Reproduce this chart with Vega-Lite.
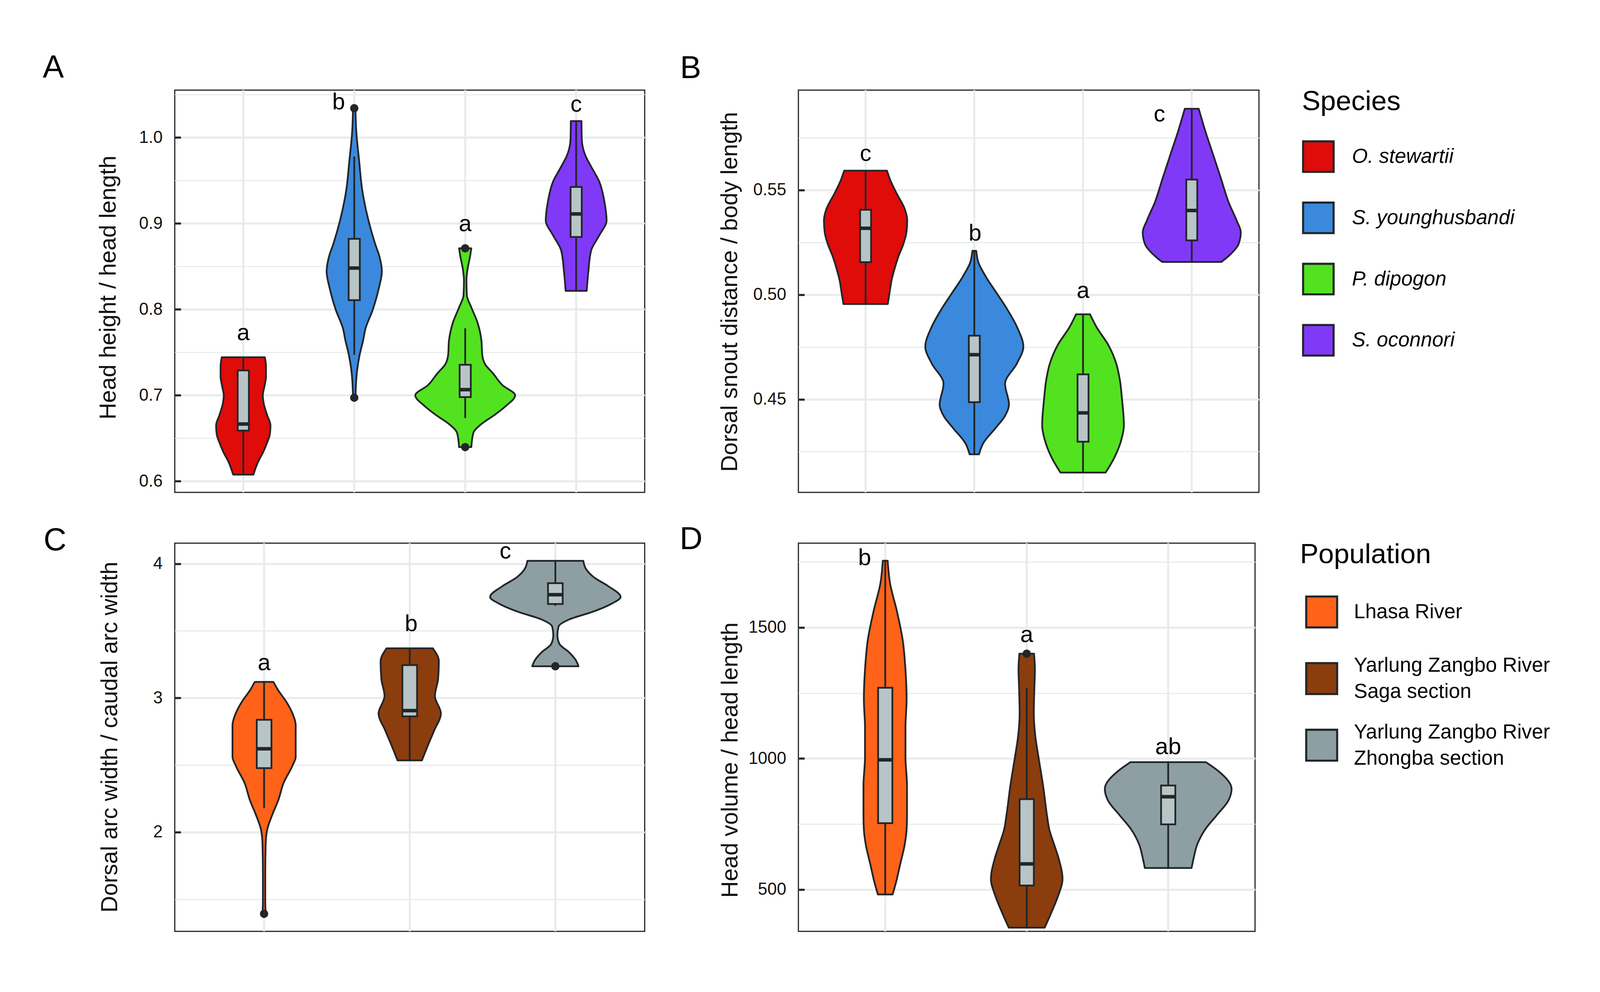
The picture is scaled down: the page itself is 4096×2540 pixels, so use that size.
{
"$schema": "https://vega.github.io/schema/vega-lite/v6.json",
"background": "white",
"autosize": {"type": "pad", "resize": false},
"padding": {"left": 107.4, "top": 130.8, "right": 60, "bottom": 60},
"datasets": {
"vA": [
{"species":"O. stewartii","v":0.7443,"lo":0.806,"hi":1.194},{"species":"O. stewartii","v":0.735,"lo":0.796,"hi":1.204},{"species":"O. stewartii","v":0.722,"lo":0.795,"hi":1.205},{"species":"O. stewartii","v":0.710,"lo":0.810,"hi":1.190},{"species":"O. stewartii","v":0.700,"lo":0.824,"hi":1.176},{"species":"O. stewartii","v":0.690,"lo":0.815,"hi":1.185},{"species":"O. stewartii","v":0.677,"lo":0.785,"hi":1.215},{"species":"O. stewartii","v":0.665,"lo":0.755,"hi":1.245},{"species":"O. stewartii","v":0.655,"lo":0.760,"hi":1.240},{"species":"O. stewartii","v":0.645,"lo":0.785,"hi":1.215},{"species":"O. stewartii","v":0.635,"lo":0.817,"hi":1.183},{"species":"O. stewartii","v":0.621,"lo":0.872,"hi":1.128},{"species":"O. stewartii","v":0.6077,"lo":0.909,"hi":1.091},
{"species":"S. younghusbandi","v":1.0341,"lo":1.989,"hi":2.011},{"species":"S. younghusbandi","v":1.008,"lo":1.982,"hi":2.018},{"species":"S. younghusbandi","v":0.973,"lo":1.956,"hi":2.044},{"species":"S. younghusbandi","v":0.938,"lo":1.927,"hi":2.073},{"species":"S. younghusbandi","v":0.9035,"lo":1.872,"hi":2.128},{"species":"S. younghusbandi","v":0.8756,"lo":1.810,"hi":2.190},{"species":"S. younghusbandi","v":0.8617,"lo":1.773,"hi":2.227},{"species":"S. younghusbandi","v":0.8443,"lo":1.751,"hi":2.249},{"species":"S. younghusbandi","v":0.8233,"lo":1.781,"hi":2.219},{"species":"S. younghusbandi","v":0.799,"lo":1.835,"hi":2.165},{"species":"S. younghusbandi","v":0.778,"lo":1.898,"hi":2.102},{"species":"S. younghusbandi","v":0.764,"lo":1.920,"hi":2.080},{"species":"S. younghusbandi","v":0.7467,"lo":1.952,"hi":2.048},{"species":"S. younghusbandi","v":0.7293,"lo":1.974,"hi":2.026},{"species":"S. younghusbandi","v":0.7118,"lo":1.985,"hi":2.015},{"species":"S. younghusbandi","v":0.6972,"lo":1.989,"hi":2.011},
{"species":"P. dipogon","v":0.8711,"lo":2.945,"hi":3.055},{"species":"P. dipogon","v":0.8617,"lo":2.956,"hi":3.044},{"species":"P. dipogon","v":0.8477,"lo":2.978,"hi":3.022},{"species":"P. dipogon","v":0.8338,"lo":2.989,"hi":3.011},{"species":"P. dipogon","v":0.8164,"lo":2.985,"hi":3.015},{"species":"P. dipogon","v":0.8024,"lo":2.945,"hi":3.055},{"species":"P. dipogon","v":0.785,"lo":2.890,"hi":3.110},{"species":"P. dipogon","v":0.764,"lo":2.854,"hi":3.146},{"species":"P. dipogon","v":0.7467,"lo":2.846,"hi":3.154},{"species":"P. dipogon","v":0.736,"lo":2.820,"hi":3.180},{"species":"P. dipogon","v":0.7258,"lo":2.751,"hi":3.249},{"species":"P. dipogon","v":0.7118,"lo":2.664,"hi":3.336},{"species":"P. dipogon","v":0.700,"lo":2.550,"hi":3.450},{"species":"P. dipogon","v":0.6875,"lo":2.634,"hi":3.366},{"species":"P. dipogon","v":0.677,"lo":2.737,"hi":3.263},{"species":"P. dipogon","v":0.6666,"lo":2.854,"hi":3.146},{"species":"P. dipogon","v":0.6561,"lo":2.927,"hi":3.073},{"species":"P. dipogon","v":0.6397,"lo":2.945,"hi":3.055},
{"species":"S. oconnori","v":1.0192,"lo":3.952,"hi":4.048},{"species":"S. oconnori","v":0.9976,"lo":3.949,"hi":4.051},{"species":"S. oconnori","v":0.9801,"lo":3.920,"hi":4.080},{"species":"S. oconnori","v":0.9662,"lo":3.865,"hi":4.135},{"species":"S. oconnori","v":0.9488,"lo":3.792,"hi":4.208},{"species":"S. oconnori","v":0.9244,"lo":3.744,"hi":4.256},{"species":"S. oconnori","v":0.9035,"lo":3.726,"hi":4.274},{"species":"S. oconnori","v":0.8861,"lo":3.792,"hi":4.208},{"species":"S. oconnori","v":0.8686,"lo":3.865,"hi":4.135},{"species":"S. oconnori","v":0.8443,"lo":3.890,"hi":4.110},{"species":"S. oconnori","v":0.8216,"lo":3.905,"hi":4.095}
],
"vB": [
{"species":"O. stewartii","v":0.5592,"lo":0.803,"hi":1.197},{"species":"O. stewartii","v":0.554,"lo":0.767,"hi":1.233},{"species":"O. stewartii","v":0.5483,"lo":0.714,"hi":1.286},{"species":"O. stewartii","v":0.5412,"lo":0.642,"hi":1.358},{"species":"O. stewartii","v":0.5355,"lo":0.617,"hi":1.383},{"species":"O. stewartii","v":0.5298,"lo":0.624,"hi":1.376},{"species":"O. stewartii","v":0.5241,"lo":0.653,"hi":1.347},{"species":"O. stewartii","v":0.5185,"lo":0.696,"hi":1.304},{"species":"O. stewartii","v":0.5128,"lo":0.731,"hi":1.269},{"species":"O. stewartii","v":0.5071,"lo":0.760,"hi":1.240},{"species":"O. stewartii","v":0.5014,"lo":0.778,"hi":1.222},{"species":"O. stewartii","v":0.4955,"lo":0.796,"hi":1.204},
{"species":"S. younghusbandi","v":0.5209,"lo":1.982,"hi":2.018},{"species":"S. younghusbandi","v":0.5156,"lo":1.964,"hi":2.036},{"species":"S. younghusbandi","v":0.5085,"lo":1.893,"hi":2.107},{"species":"S. younghusbandi","v":0.500,"lo":1.785,"hi":2.215},{"species":"S. younghusbandi","v":0.4929,"lo":1.696,"hi":2.304},{"species":"S. younghusbandi","v":0.4844,"lo":1.606,"hi":2.394},{"species":"S. younghusbandi","v":0.4751,"lo":1.549,"hi":2.451},{"species":"S. younghusbandi","v":0.4673,"lo":1.606,"hi":2.394},{"species":"S. younghusbandi","v":0.4574,"lo":1.717,"hi":2.283},{"species":"S. younghusbandi","v":0.4474,"lo":1.681,"hi":2.319},{"species":"S. younghusbandi","v":0.4418,"lo":1.721,"hi":2.279},{"species":"S. younghusbandi","v":0.4361,"lo":1.807,"hi":2.193},{"species":"S. younghusbandi","v":0.429,"lo":1.918,"hi":2.082},{"species":"S. younghusbandi","v":0.4237,"lo":1.957,"hi":2.043},
{"species":"P. dipogon","v":0.4906,"lo":2.936,"hi":3.064},{"species":"P. dipogon","v":0.4844,"lo":2.875,"hi":3.125},{"species":"P. dipogon","v":0.4759,"lo":2.767,"hi":3.233},{"species":"P. dipogon","v":0.4673,"lo":2.696,"hi":3.304},{"species":"P. dipogon","v":0.4588,"lo":2.660,"hi":3.340},{"species":"P. dipogon","v":0.4503,"lo":2.642,"hi":3.358},{"species":"P. dipogon","v":0.4375,"lo":2.624,"hi":3.376},{"species":"P. dipogon","v":0.4304,"lo":2.649,"hi":3.351},{"species":"P. dipogon","v":0.4219,"lo":2.714,"hi":3.286},{"species":"P. dipogon","v":0.415,"lo":2.792,"hi":3.208},
{"species":"S. oconnori","v":0.5888,"lo":3.936,"hi":4.064},{"species":"S. oconnori","v":0.5781,"lo":3.875,"hi":4.125},{"species":"S. oconnori","v":0.5668,"lo":3.803,"hi":4.197},{"species":"S. oconnori","v":0.5554,"lo":3.731,"hi":4.269},{"species":"S. oconnori","v":0.544,"lo":3.660,"hi":4.340},{"species":"S. oconnori","v":0.5355,"lo":3.588,"hi":4.412},{"species":"S. oconnori","v":0.5298,"lo":3.549,"hi":4.451},{"species":"S. oconnori","v":0.5241,"lo":3.570,"hi":4.430},{"species":"S. oconnori","v":0.5185,"lo":3.660,"hi":4.340},{"species":"S. oconnori","v":0.5156,"lo":3.728,"hi":4.272}
],
"vC": [
{"population":"Lhasa River","v":3.1197,"lo":0.936,"hi":1.064},{"population":"Lhasa River","v":3.057,"lo":0.903,"hi":1.097},{"population":"Lhasa River","v":2.971,"lo":0.847,"hi":1.153},{"population":"Lhasa River","v":2.885,"lo":0.805,"hi":1.195},{"population":"Lhasa River","v":2.798,"lo":0.783,"hi":1.217},{"population":"Lhasa River","v":2.669,"lo":0.783,"hi":1.217},{"population":"Lhasa River","v":2.561,"lo":0.783,"hi":1.217},{"population":"Lhasa River","v":2.496,"lo":0.805,"hi":1.195},{"population":"Lhasa River","v":2.367,"lo":0.866,"hi":1.134},{"population":"Lhasa River","v":2.237,"lo":0.903,"hi":1.097},{"population":"Lhasa River","v":2.129,"lo":0.944,"hi":1.056},{"population":"Lhasa River","v":2.022,"lo":0.978,"hi":1.022},{"population":"Lhasa River","v":1.914,"lo":0.989,"hi":1.011},{"population":"Lhasa River","v":1.698,"lo":0.992,"hi":1.008},{"population":"Lhasa River","v":1.482,"lo":0.992,"hi":1.008},{"population":"Lhasa River","v":1.392,"lo":0.989,"hi":1.011},
{"population":"Yarlung Zangbo River Saga section","v":3.370,"lo":1.841,"hi":2.159},{"population":"Yarlung Zangbo River Saga section","v":3.273,"lo":1.800,"hi":2.200},{"population":"Yarlung Zangbo River Saga section","v":3.143,"lo":1.805,"hi":2.195},{"population":"Yarlung Zangbo River Saga section","v":3.014,"lo":1.827,"hi":2.173},{"population":"Yarlung Zangbo River Saga section","v":2.885,"lo":1.786,"hi":2.214},{"population":"Yarlung Zangbo River Saga section","v":2.755,"lo":1.833,"hi":2.167},{"population":"Yarlung Zangbo River Saga section","v":2.647,"lo":1.875,"hi":2.125},{"population":"Yarlung Zangbo River Saga section","v":2.535,"lo":1.916,"hi":2.084},
{"population":"Yarlung Zangbo River Zhongba section","v":4.0216,"lo":2.808,"hi":3.192},{"population":"Yarlung Zangbo River Zhongba section","v":3.9633,"lo":2.791,"hi":3.209},{"population":"Yarlung Zangbo River Zhongba section","v":3.8986,"lo":2.735,"hi":3.265},{"population":"Yarlung Zangbo River Zhongba section","v":3.8339,"lo":2.638,"hi":3.362},{"population":"Yarlung Zangbo River Zhongba section","v":3.7519,"lo":2.552,"hi":3.448},{"population":"Yarlung Zangbo River Zhongba section","v":3.7044,"lo":2.610,"hi":3.390},{"population":"Yarlung Zangbo River Zhongba section","v":3.6397,"lo":2.749,"hi":3.251},{"population":"Yarlung Zangbo River Zhongba section","v":3.5858,"lo":2.903,"hi":3.097},{"population":"Yarlung Zangbo River Zhongba section","v":3.5318,"lo":2.978,"hi":3.022},{"population":"Yarlung Zangbo River Zhongba section","v":3.4671,"lo":2.986,"hi":3.014},{"population":"Yarlung Zangbo River Zhongba section","v":3.4024,"lo":2.972,"hi":3.028},{"population":"Yarlung Zangbo River Zhongba section","v":3.3376,"lo":2.903,"hi":3.097},{"population":"Yarlung Zangbo River Zhongba section","v":3.2837,"lo":2.861,"hi":3.139},{"population":"Yarlung Zangbo River Zhongba section","v":3.2362,"lo":2.841,"hi":3.159}
],
"vD": [
{"population":"Lhasa River","v":1755,"lo":0.983,"hi":1.017},{"population":"Lhasa River","v":1672,"lo":0.967,"hi":1.033},{"population":"Lhasa River","v":1561,"lo":0.917,"hi":1.083},{"population":"Lhasa River","v":1450,"lo":0.876,"hi":1.124},{"population":"Lhasa River","v":1339,"lo":0.857,"hi":1.143},{"population":"Lhasa River","v":1228,"lo":0.849,"hi":1.151},{"population":"Lhasa River","v":1117,"lo":0.857,"hi":1.143},{"population":"Lhasa River","v":1006,"lo":0.857,"hi":1.143},{"population":"Lhasa River","v":895,"lo":0.846,"hi":1.154},{"population":"Lhasa River","v":784,"lo":0.846,"hi":1.154},{"population":"Lhasa River","v":728,"lo":0.849,"hi":1.151},{"population":"Lhasa River","v":673,"lo":0.862,"hi":1.138},{"population":"Lhasa River","v":595,"lo":0.895,"hi":1.105},{"population":"Lhasa River","v":529,"lo":0.923,"hi":1.077},{"population":"Lhasa River","v":481,"lo":0.948,"hi":1.052},
{"population":"Yarlung Zangbo River Saga section","v":1400,"lo":1.948,"hi":2.052},{"population":"Yarlung Zangbo River Saga section","v":1339,"lo":1.942,"hi":2.058},{"population":"Yarlung Zangbo River Saga section","v":1284,"lo":1.945,"hi":2.055},{"population":"Yarlung Zangbo River Saga section","v":1173,"lo":1.950,"hi":2.050},{"population":"Yarlung Zangbo River Saga section","v":1084,"lo":1.939,"hi":2.061},{"population":"Yarlung Zangbo River Saga section","v":1006,"lo":1.917,"hi":2.083},{"population":"Yarlung Zangbo River Saga section","v":895,"lo":1.884,"hi":2.116},{"population":"Yarlung Zangbo River Saga section","v":784,"lo":1.857,"hi":2.143},{"population":"Yarlung Zangbo River Saga section","v":728,"lo":1.840,"hi":2.160},{"population":"Yarlung Zangbo River Saga section","v":673,"lo":1.807,"hi":2.193},{"population":"Yarlung Zangbo River Saga section","v":618,"lo":1.774,"hi":2.226},{"population":"Yarlung Zangbo River Saga section","v":540,"lo":1.747,"hi":2.253},{"population":"Yarlung Zangbo River Saga section","v":473,"lo":1.780,"hi":2.220},{"population":"Yarlung Zangbo River Saga section","v":418,"lo":1.821,"hi":2.179},{"population":"Yarlung Zangbo River Saga section","v":354.6,"lo":1.873,"hi":2.127},
{"population":"Yarlung Zangbo River Zhongba section","v":986,"lo":2.733,"hi":3.267},{"population":"Yarlung Zangbo River Zhongba section","v":950.6,"lo":2.642,"hi":3.358},{"population":"Yarlung Zangbo River Zhongba section","v":884,"lo":2.552,"hi":3.448},{"population":"Yarlung Zangbo River Zhongba section","v":840,"lo":2.574,"hi":3.426},{"population":"Yarlung Zangbo River Zhongba section","v":784,"lo":2.656,"hi":3.344},{"population":"Yarlung Zangbo River Zhongba section","v":729,"lo":2.739,"hi":3.261},{"population":"Yarlung Zangbo River Zhongba section","v":673,"lo":2.794,"hi":3.206},{"population":"Yarlung Zangbo River Zhongba section","v":618,"lo":2.821,"hi":3.179},{"population":"Yarlung Zangbo River Zhongba section","v":582,"lo":2.835,"hi":3.165}
],
"bA": [
{"pos":1,"lw":0.6077,"q1":0.6589,"med":0.6666,"q3":0.729,"uw":0.7443},
{"pos":2,"lw":0.747,"q1":0.8108,"med":0.8481,"q3":0.8822,"uw":0.978},
{"pos":3,"lw":0.6735,"q1":0.6979,"med":0.7066,"q3":0.7355,"uw":0.778},
{"pos":4,"lw":0.8216,"q1":0.8843,"med":0.9111,"q3":0.9425,"uw":1.0192}
],
"bB": [
{"pos":1,"lw":0.4955,"q1":0.5155,"med":0.5317,"q3":0.5405,"uw":0.5592},
{"pos":2,"lw":0.4237,"q1":0.4486,"med":0.4713,"q3":0.4804,"uw":0.5209},
{"pos":3,"lw":0.415,"q1":0.4297,"med":0.4435,"q3":0.4619,"uw":0.4906},
{"pos":4,"lw":0.5156,"q1":0.5259,"med":0.5402,"q3":0.555,"uw":0.5888}
],
"bC": [
{"pos":1,"lw":2.179,"q1":2.477,"med":2.621,"q3":2.837,"uw":3.12},
{"pos":2,"lw":2.535,"q1":2.863,"med":2.906,"q3":3.245,"uw":3.37},
{"pos":3,"lw":3.687,"q1":3.70,"med":3.769,"q3":3.855,"uw":4.0216}
],
"bD": [
{"pos":1,"lw":481,"q1":753,"med":995,"q3":1270,"uw":1755},
{"pos":2,"lw":354.6,"q1":515.5,"med":597.7,"q3":845,"uw":1270},
{"pos":3,"lw":582,"q1":748.6,"med":854,"q3":897,"uw":986}
],
"oA": [{"pos":2,"val":1.0341},{"pos":2,"val":0.6972},{"pos":3,"val":0.8711},{"pos":3,"val":0.6397}],
"oC": [{"pos":1,"val":1.392},{"pos":3,"val":3.236}],
"oD": [{"pos":2,"val":1400}],
"tA": [{"lx":1,"ly":0.764,"t":"a"},{"lx":1.859,"ly":1.033,"t":"b"},{"lx":3,"ly":0.891,"t":"a"},{"lx":4,"ly":1.03,"t":"c"}],
"tB": [{"lx":1,"ly":0.5639,"t":"c"},{"lx":2.007,"ly":0.5259,"t":"b"},{"lx":3,"ly":0.4983,"t":"a"},{"lx":3.703,"ly":0.5827,"t":"c"}],
"tC": [{"lx":1,"ly":3.208,"t":"a"},{"lx":2.01,"ly":3.499,"t":"b"},{"lx":2.657,"ly":4.039,"t":"c"}],
"tD": [{"lx":0.854,"ly":1738.6,"t":"b"},{"lx":2,"ly":1444.5,"t":"a"},{"lx":3,"ly":1017,"t":"ab"}]
},
"columns": 2,
"concat": [
{"width": 1203, "height": 1030,
 "title": {"text": "A", "anchor": "start", "frame": "group", "align": "left", "baseline": "alphabetic", "dx": -338, "offset": -52.7, "fontSize": 81, "fontWeight": "normal", "font": "Liberation Sans", "color": "#000000"},
 "layer": [
  {"data": {"name": "bA"}, "mark": {"type": "rule", "color": "#E6EBEB", "strokeWidth": 5},
   "encoding": {"x": {"field": "pos", "type": "quantitative", "scale": {"domain": [0.4, 4.6], "nice": false, "zero": false}, "axis": null}}},
  {"data": {"name": "vA"}, "mark": {"type": "area", "orient": "horizontal", "interpolate": "monotone", "stroke": "#222629", "strokeWidth": 4.5, "strokeJoin": "round", "fillOpacity": 1, "opacity": 1},
   "encoding": {
    "y": {"field": "v", "type": "quantitative", "scale": {"domain": [0.587, 1.0552], "nice": false, "zero": false}, "axis": {"orient": "right", "values": [0.65, 0.75, 0.85, 0.95, 1.05], "grid": true, "gridWidth": 2.7, "labels": false, "ticks": false, "domain": false, "title": null}},
    "x": {"field": "lo", "type": "quantitative", "stack": null, "axis": null},
    "x2": {"field": "hi"},
    "color": {"field": "species", "type": "nominal", "scale": {"domain": ["O. stewartii", "S. younghusbandi", "P. dipogon", "S. oconnori"], "range": ["#DF0C0A", "#3B89DC", "#53E21F", "#8139F8"]},
     "legend": {"title": "Species", "orient": "none", "legendX": 2885.6, "legendY": -5, "direction": "vertical", "symbolType": "square", "symbolSize": 6100, "symbolStrokeColor": "#222629", "symbolStrokeWidth": 5.3, "symbolOpacity": 1, "titleFontSize": 71, "titleFontWeight": "normal", "titleColor": "#000000", "titleFont": "Liberation Sans", "titlePadding": 62.25, "titleLimit": 2000, "labelFontSize": 52, "labelFontStyle": "italic", "labelFont": "Liberation Sans", "labelColor": "#000000", "labelOffset": 44, "labelLimit": 2000, "rowPadding": 46.75, "padding": 0, "labelExpr": "['', datum.label]"}}
   }},
  {"data": {"name": "bA"}, "mark": {"type": "rule", "color": "#222629", "strokeWidth": 4.5},
   "encoding": {"x": {"field": "pos", "type": "quantitative", "axis": null}, "y": {"field": "lw", "type": "quantitative", "axis": null}, "y2": {"field": "uw"}}},
  {"data": {"name": "bA"}, "mark": {"type": "bar", "orient": "vertical", "size": 28.6, "fill": "#B8C5C6", "stroke": "#222629", "strokeWidth": 4.5, "opacity": 1},
   "encoding": {"x": {"field": "pos", "type": "quantitative", "axis": null}, "y": {"field": "q1", "type": "quantitative", "axis": {"orient": "left", "values": [0.6, 0.7, 0.8, 0.9, 1.0], "format": ".1f", "grid": true, "gridWidth": 5, "ticks": true, "tickSize": -15.5, "tickWidth": 5.3, "tickColor": "#232629", "labelPadding": 47, "labelOffset": 33.5, "labelFontSize": 43.5, "domain": false, "title": "Head height / head length", "titleFontSize": 59, "titleX": -151.6, "titleY": 505, "titleBaseline": "alphabetic", "titleAngle": 270, "titleAlign": "center"}}, "y2": {"field": "q3"}}},
  {"data": {"name": "bA"}, "mark": {"type": "tick", "orient": "horizontal", "size": 28.6, "thickness": 9, "color": "#222629", "opacity": 1},
   "encoding": {"x": {"field": "pos", "type": "quantitative", "axis": null}, "y": {"field": "med", "type": "quantitative", "axis": null}}},
  {"data": {"name": "oA"}, "mark": {"type": "circle", "size": 450, "color": "#222629", "opacity": 1},
   "encoding": {"x": {"field": "pos", "type": "quantitative", "axis": null}, "y": {"field": "val", "type": "quantitative", "axis": null}}},
  {"data": {"name": "tA"}, "mark": {"type": "text", "fontSize": 59, "font": "Liberation Sans", "baseline": "alphabetic", "align": "center", "color": "#000000"},
   "encoding": {"x": {"field": "lx", "type": "quantitative", "axis": null}, "y": {"field": "ly", "type": "quantitative", "axis": null}, "text": {"field": "t"}}}
 ],
 "resolve": {"axis": {"y": "independent"}}
},
{"width": 1179, "height": 1030,
 "title": {"text": "B", "anchor": "start", "frame": "group", "align": "left", "baseline": "alphabetic", "dx": -303, "offset": -52.7, "fontSize": 81, "fontWeight": "normal", "font": "Liberation Sans", "color": "#000000"},
 "layer": [
  {"data": {"name": "bB"}, "mark": {"type": "rule", "color": "#E6EBEB", "strokeWidth": 5},
   "encoding": {"x": {"field": "pos", "type": "quantitative", "scale": {"domain": [0.4, 4.6], "nice": false, "zero": false}, "axis": null}}},
  {"data": {"name": "vB"}, "mark": {"type": "area", "orient": "horizontal", "interpolate": "monotone", "stroke": "#222629", "strokeWidth": 4.5, "strokeJoin": "round", "fillOpacity": 1, "opacity": 1},
   "encoding": {
    "y": {"field": "v", "type": "quantitative", "scale": {"domain": [0.4055, 0.5977], "nice": false, "zero": false}, "axis": {"orient": "right", "values": [0.425, 0.475, 0.525, 0.575], "grid": true, "gridWidth": 2.7, "labels": false, "ticks": false, "domain": false, "title": null}},
    "x": {"field": "lo", "type": "quantitative", "stack": null, "axis": null},
    "x2": {"field": "hi"},
    "color": {"field": "species", "type": "nominal", "scale": {"domain": ["O. stewartii", "S. younghusbandi", "P. dipogon", "S. oconnori"], "range": ["#DF0C0A", "#3B89DC", "#53E21F", "#8139F8"]}, "legend": null}
   }},
  {"data": {"name": "bB"}, "mark": {"type": "rule", "color": "#222629", "strokeWidth": 4.5},
   "encoding": {"x": {"field": "pos", "type": "quantitative", "axis": null}, "y": {"field": "lw", "type": "quantitative", "axis": null}, "y2": {"field": "uw"}}},
  {"data": {"name": "bB"}, "mark": {"type": "bar", "orient": "vertical", "size": 28.1, "fill": "#B8C5C6", "stroke": "#222629", "strokeWidth": 4.5, "opacity": 1},
   "encoding": {"x": {"field": "pos", "type": "quantitative", "axis": null}, "y": {"field": "q1", "type": "quantitative", "axis": {"orient": "left", "values": [0.45, 0.5, 0.55], "format": ".2f", "grid": true, "gridWidth": 5, "ticks": true, "tickSize": -15.5, "tickWidth": 5.3, "tickColor": "#232629", "labelPadding": 47, "labelOffset": 33.5, "labelFontSize": 43.5, "domain": false, "title": "Dorsal snout distance / body length", "titleFontSize": 59, "titleX": -157.4, "titleY": 516, "titleBaseline": "alphabetic", "titleAngle": 270, "titleAlign": "center"}}, "y2": {"field": "q3"}}},
  {"data": {"name": "bB"}, "mark": {"type": "tick", "orient": "horizontal", "size": 28.1, "thickness": 9, "color": "#222629", "opacity": 1},
   "encoding": {"x": {"field": "pos", "type": "quantitative", "axis": null}, "y": {"field": "med", "type": "quantitative", "axis": null}}},
  {"data": {"name": "tB"}, "mark": {"type": "text", "fontSize": 59, "font": "Liberation Sans", "baseline": "alphabetic", "align": "center", "color": "#000000"},
   "encoding": {"x": {"field": "lx", "type": "quantitative", "axis": null}, "y": {"field": "ly", "type": "quantitative", "axis": null}, "text": {"field": "t"}}}
 ],
 "resolve": {"axis": {"y": "independent"}}
},
{"width": 1203, "height": 994,
 "title": {"text": "C", "anchor": "start", "frame": "group", "align": "left", "baseline": "alphabetic", "dx": -336, "offset": -106.8, "fontSize": 81, "fontWeight": "normal", "font": "Liberation Sans", "color": "#000000"},
 "layer": [
  {"data": {"name": "bC"}, "mark": {"type": "rule", "color": "#E6EBEB", "strokeWidth": 5},
   "encoding": {"x": {"field": "pos", "type": "quantitative", "scale": {"domain": [0.4, 3.6], "nice": false, "zero": false}, "axis": null}}},
  {"data": {"name": "vC"}, "mark": {"type": "area", "orient": "horizontal", "interpolate": "monotone", "stroke": "#222629", "strokeWidth": 4.5, "strokeJoin": "round", "fillOpacity": 1, "opacity": 1},
   "encoding": {
    "y": {"field": "v", "type": "quantitative", "scale": {"domain": [1.261, 4.153], "nice": false, "zero": false}, "axis": {"orient": "right", "values": [1.5, 2.5, 3.5], "grid": true, "gridWidth": 2.7, "labels": false, "ticks": false, "domain": false, "title": null}},
    "x": {"field": "lo", "type": "quantitative", "stack": null, "axis": null},
    "x2": {"field": "hi"},
    "color": {"field": "population", "type": "nominal", "scale": {"domain": ["Lhasa River", "Yarlung Zangbo River Saga section", "Yarlung Zangbo River Zhongba section"], "range": ["#FF6319", "#8B3D0D", "#8E9FA4"]},
     "legend": {"title": "Population", "orient": "none", "legendX": 2880.6, "legendY": -4.7, "direction": "vertical", "gridAlign": "all", "symbolType": "square", "symbolSize": 6270, "symbolOffset": 13, "symbolStrokeColor": "#222629", "symbolStrokeWidth": 5.3, "symbolOpacity": 1, "titleFontSize": 71, "titleFontWeight": "normal", "titleColor": "#000000", "titleFont": "Liberation Sans", "titlePadding": 67.3, "titleLimit": 2000, "labelFontSize": 52, "labelFont": "Liberation Sans", "labelColor": "#000000", "labelOffset": 40, "labelLimit": 2000, "rowPadding": 51.6, "padding": 0,
      "labelExpr": "indexof(datum.label, 'Yarlung') === 0 ? ['Yarlung Zangbo River', '\u200b', replace(datum.label, 'Yarlung Zangbo River ', '')] : ['', datum.label]"}}
   }},
  {"data": {"name": "bC"}, "mark": {"type": "rule", "color": "#222629", "strokeWidth": 4.5},
   "encoding": {"x": {"field": "pos", "type": "quantitative", "axis": null}, "y": {"field": "lw", "type": "quantitative", "axis": null}, "y2": {"field": "uw"}}},
  {"data": {"name": "bC"}, "mark": {"type": "bar", "orient": "vertical", "size": 37.6, "fill": "#B8C5C6", "stroke": "#222629", "strokeWidth": 4.5, "opacity": 1},
   "encoding": {"x": {"field": "pos", "type": "quantitative", "axis": null}, "y": {"field": "q1", "type": "quantitative", "axis": {"orient": "left", "values": [2, 3, 4], "format": "d", "grid": true, "gridWidth": 5, "ticks": true, "tickSize": -15.5, "tickWidth": 5.3, "tickColor": "#232629", "labelPadding": 47, "labelOffset": 33.5, "labelFontSize": 43.5, "domain": false, "title": "Dorsal arc width / caudal arc width", "titleFontSize": 59, "titleX": -148, "titleY": 496, "titleBaseline": "alphabetic", "titleAngle": 270, "titleAlign": "center"}}, "y2": {"field": "q3"}}},
  {"data": {"name": "bC"}, "mark": {"type": "tick", "orient": "horizontal", "size": 37.6, "thickness": 9, "color": "#222629", "opacity": 1},
   "encoding": {"x": {"field": "pos", "type": "quantitative", "axis": null}, "y": {"field": "med", "type": "quantitative", "axis": null}}},
  {"data": {"name": "oC"}, "mark": {"type": "circle", "size": 450, "color": "#222629", "opacity": 1},
   "encoding": {"x": {"field": "pos", "type": "quantitative", "axis": null}, "y": {"field": "val", "type": "quantitative", "axis": null}}},
  {"data": {"name": "tC"}, "mark": {"type": "text", "fontSize": 59, "font": "Liberation Sans", "baseline": "alphabetic", "align": "center", "color": "#000000"},
   "encoding": {"x": {"field": "lx", "type": "quantitative", "axis": null}, "y": {"field": "ly", "type": "quantitative", "axis": null}, "text": {"field": "t"}}}
 ],
 "resolve": {"axis": {"y": "independent"}}
},
{"width": 1169, "height": 994,
 "title": {"text": "D", "anchor": "start", "frame": "group", "align": "left", "baseline": "alphabetic", "dx": -304, "offset": -99, "fontSize": 81, "fontWeight": "normal", "font": "Liberation Sans", "color": "#000000"},
 "layer": [
  {"data": {"name": "bD"}, "mark": {"type": "rule", "color": "#E6EBEB", "strokeWidth": 5},
   "encoding": {"x": {"field": "pos", "type": "quantitative", "scale": {"domain": [0.4, 3.6], "nice": false, "zero": false}, "axis": null}}},
  {"data": {"name": "vD"}, "mark": {"type": "area", "orient": "horizontal", "interpolate": "monotone", "stroke": "#222629", "strokeWidth": 4.5, "strokeJoin": "round", "fillOpacity": 1, "opacity": 1},
   "encoding": {
    "y": {"field": "v", "type": "quantitative", "scale": {"domain": [340.2, 1821.9], "nice": false, "zero": false}, "axis": {"orient": "right", "values": [750, 1250, 1750], "grid": true, "gridWidth": 2.7, "labels": false, "ticks": false, "domain": false, "title": null}},
    "x": {"field": "lo", "type": "quantitative", "stack": null, "axis": null},
    "x2": {"field": "hi"},
    "color": {"field": "population", "type": "nominal", "scale": {"domain": ["Lhasa River", "Yarlung Zangbo River Saga section", "Yarlung Zangbo River Zhongba section"], "range": ["#FF6319", "#8B3D0D", "#8E9FA4"]}, "legend": null}
   }},
  {"data": {"name": "bD"}, "mark": {"type": "rule", "color": "#222629", "strokeWidth": 4.5},
   "encoding": {"x": {"field": "pos", "type": "quantitative", "axis": null}, "y": {"field": "lw", "type": "quantitative", "axis": null}, "y2": {"field": "uw"}}},
  {"data": {"name": "bD"}, "mark": {"type": "bar", "orient": "vertical", "size": 36.5, "fill": "#B8C5C6", "stroke": "#222629", "strokeWidth": 4.5, "opacity": 1},
   "encoding": {"x": {"field": "pos", "type": "quantitative", "axis": null}, "y": {"field": "q1", "type": "quantitative", "axis": {"orient": "left", "values": [500, 1000, 1500], "format": "d", "grid": true, "gridWidth": 5, "ticks": true, "tickSize": -15.5, "tickWidth": 5.3, "tickColor": "#232629", "labelPadding": 47, "labelOffset": 33.5, "labelFontSize": 43.5, "domain": false, "title": "Head volume / head length", "titleFontSize": 59, "titleX": -156, "titleY": 555, "titleBaseline": "alphabetic", "titleAngle": 270, "titleAlign": "center"}}, "y2": {"field": "q3"}}},
  {"data": {"name": "bD"}, "mark": {"type": "tick", "orient": "horizontal", "size": 36.5, "thickness": 9, "color": "#222629", "opacity": 1},
   "encoding": {"x": {"field": "pos", "type": "quantitative", "axis": null}, "y": {"field": "med", "type": "quantitative", "axis": null}}},
  {"data": {"name": "oD"}, "mark": {"type": "circle", "size": 450, "color": "#222629", "opacity": 1},
   "encoding": {"x": {"field": "pos", "type": "quantitative", "axis": null}, "y": {"field": "val", "type": "quantitative", "axis": null}}},
  {"data": {"name": "tD"}, "mark": {"type": "text", "fontSize": 60, "font": "Liberation Sans", "baseline": "alphabetic", "align": "center", "color": "#000000"},
   "encoding": {"x": {"field": "lx", "type": "quantitative", "axis": null}, "y": {"field": "ly", "type": "quantitative", "axis": null}, "text": {"field": "t"}}}
 ],
 "resolve": {"axis": {"y": "independent"}}
}
],
"spacing": {"row": 130, "column": 393.5},
"bounds": "flush",
"resolve": {"scale": {"color": "independent"}, "legend": {"color": "independent"}},
"config": {
 "font": "Liberation Sans",
 "view": {"stroke": "#232629", "strokeWidth": 3},
 "style": {"guide-label": {"lineHeight": 33.5, "dy": -33.5}},
 "axis": {"labelFont": "Liberation Sans", "titleFont": "Liberation Sans", "labelColor": "#111111", "titleColor": "#111111", "titleFontWeight": "normal", "gridColor": "#E6EBEB", "gridOpacity": 1, "domain": false}
}
}
